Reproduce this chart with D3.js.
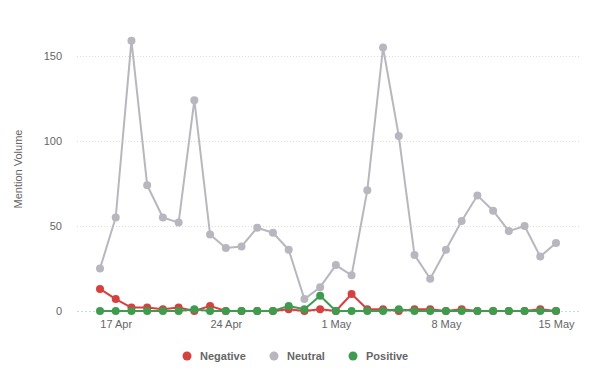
<!DOCTYPE html>
<html><head><meta charset="utf-8">
<script src="https://cdn.jsdelivr.net/npm/d3@7/dist/d3.min.js"></script>
<style>
body{margin:0;background:#fff;}
svg{display:block;font-family:"Liberation Sans",Arial,sans-serif;}
</style></head>
<body><svg id="c" width="589" height="381"></svg>
<script>
const dates = ["2016-04-16","2016-04-17","2016-04-18","2016-04-19","2016-04-20","2016-04-21","2016-04-22","2016-04-23","2016-04-24","2016-04-25","2016-04-26","2016-04-27","2016-04-28","2016-04-29","2016-04-30","2016-05-01","2016-05-02","2016-05-03","2016-05-04","2016-05-05","2016-05-06","2016-05-07","2016-05-08","2016-05-09","2016-05-10","2016-05-11","2016-05-12","2016-05-13","2016-05-14","2016-05-15"];
const negative = [13,7,2,2,1,2,0,3,0,0,0,0,1,0,1,0,10,1,1,0,1,1,0,1,0,0,0,0,1,0];
const neutral  = [25,55,159,74,55,52,124,45,37,38,49,46,36,7,14,27,21,71,155,103,33,19,36,53,68,59,47,50,32,40];
const positive = [0,0,0,0,0,0,1,0,0,0,0,0,3,1,9,0,0,0,0,1,0,0,0,0,0,0,0,0,0,0];
const xTicks = ["2016-04-17","2016-04-24","2016-05-01","2016-05-08","2016-05-15"];
const yTicks = [0,50,100,150];
const seriesNames = ["Negative","Neutral","Positive"];
const colors = ["#d6403f","#b8b7bf","#3f9c4f"];

const parse = d3.timeParse("%Y-%m-%d");
const fmt = d3.timeFormat("%-d %b");
const svg = d3.select("#c");
const x = d3.scaleTime().domain([parse(dates[0]), parse(dates[dates.length-1])]).range([100,556]);
const y = d3.scaleLinear().domain([0,150]).range([311,56]);
const gridX0 = 77, gridX1 = 579;

// gridlines
svg.append("g").selectAll("line").data(yTicks.filter(d=>d>0)).join("line")
  .attr("x1",gridX0).attr("x2",gridX1)
  .attr("y1",d=>y(d)+0.5).attr("y2",d=>y(d)+0.5)
  .attr("stroke","#dcdcdc").attr("stroke-width",1).attr("stroke-dasharray","1,2");
svg.append("line").attr("x1",gridX0).attr("x2",gridX1).attr("y1",y(0)+0.5).attr("y2",y(0)+0.5)
  .attr("stroke","#c9d6ea").attr("stroke-width",1).attr("stroke-dasharray","2,2");

// y axis
const yAxis = svg.append("g").attr("transform","translate(62,0)")
  .call(d3.axisLeft(y).tickValues(yTicks).tickSize(0).tickPadding(0));
yAxis.select(".domain").remove();
yAxis.selectAll("text").attr("fill","#666").style("font-size","11px").style("font-family","Liberation Sans, Arial, sans-serif");

// x axis
const xAxis = svg.append("g").attr("transform","translate(0,318)")
  .call(d3.axisBottom(x).tickValues(xTicks.map(parse)).tickFormat(fmt).tickSize(0).tickPadding(2));
xAxis.select(".domain").remove();
xAxis.selectAll("text").attr("fill","#666").style("font-size","11px").style("font-family","Liberation Sans, Arial, sans-serif");

// y title
svg.append("text").attr("transform","translate(22,169) rotate(-90)")
  .attr("text-anchor","middle").attr("fill","#666").style("font-size","11px")
  .text("Mention Volume");

const data = [negative, neutral, positive];
const order = [1,0,2];
const line = d3.line().x((d,i)=>x(parse(dates[i]))).y(d=>y(d));
order.forEach(k=>{
  const g = svg.append("g");
  g.append("path").datum(data[k]).attr("d",line).attr("fill","none")
    .attr("stroke",colors[k]).attr("stroke-width",2).attr("stroke-linejoin","round");
  g.selectAll("circle").data(data[k]).join("circle")
    .attr("cx",(d,i)=>x(parse(dates[i]))).attr("cy",d=>y(d)).attr("r",4)
    .attr("fill",colors[k]);
});

// legend
const legendX = [187,274,353];
const lg = svg.append("g");
seriesNames.forEach((n,i)=>{
  lg.append("circle").attr("cx",legendX[i]).attr("cy",356).attr("r",4.5).attr("fill",colors[i]);
  lg.append("text").attr("x",legendX[i]+13).attr("y",360).attr("fill","#666")
    .style("font-size","11px").style("font-weight","bold").text(n);
});
</script></body></html>
